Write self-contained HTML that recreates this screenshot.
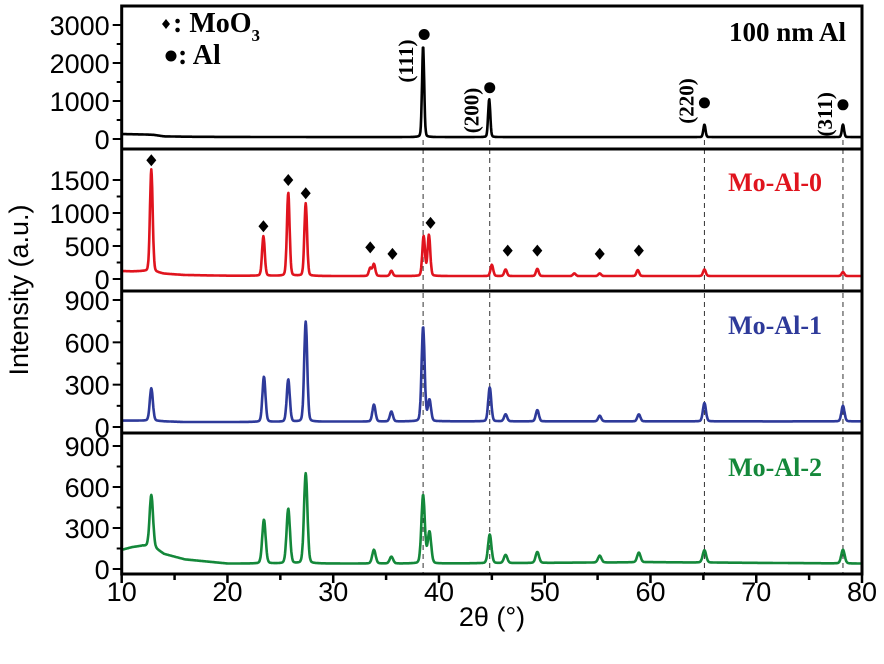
<!DOCTYPE html>
<html><head><meta charset="utf-8"><style>
html,body{margin:0;padding:0;background:#fff;width:884px;height:664px;overflow:hidden}
svg{display:block}
.ax{font-family:"Liberation Sans",Arial,sans-serif;font-size:27px;fill:#000}
.ser{font-family:"Liberation Serif",serif;font-weight:bold}
</style></head><body>
<svg id="chart" width="884" height="664" viewBox="0 0 884 664" xmlns="http://www.w3.org/2000/svg"></svg>
<script>
const xTicks=[10,20,30,40,50,60,70,80];
const panelNames=['100 nm Al','Mo-Al-0','Mo-Al-1','Mo-Al-2'];
const panelColors=['#000000','#e0141e','#2e3a9a','#14883a'];
const panelMax=[3000,1500,900,900];
const panelTicks=[[0,1000,2000,3000],[0,500,1000,1500],[0,300,600,900],[0,300,600,900]];
const baseX=[10,11,12,13,14,16,20,30,40,50,60,70,80];
const baseAl=[130,125,120,110,70,60,55,50,50,50,50,50,50];
const base0=[120,115,118,110,80,60,50,45,45,45,45,45,45];
const base1=[45,45,45,45,40,35,35,38,40,40,40,40,40];
const base2=[140,160,170,160,110,70,40,40,40,45,50,45,40];
const peaksAlX=[38.5,44.75,65.1,78.2];
const peaksAlH=[2400,1000,330,330];
const peaks0X=[12.8,23.4,25.75,27.4,33.5,33.85,35.5,38.55,39.05,45.0,46.3,49.3,52.8,55.2,58.8,65.1,78.2];
const peaks0H=[1550,600,1260,1100,120,180,80,600,620,170,100,110,40,40,90,100,60];
const peaks1X=[12.8,23.45,25.75,27.4,33.85,35.5,38.5,39.1,44.8,46.3,49.3,55.2,58.9,65.1,78.2];
const peaks1H=[230,320,300,710,120,70,670,150,240,50,80,40,50,130,110];
const peaks2X=[12.8,23.45,25.75,27.4,33.85,35.5,38.5,39.1,44.8,46.3,49.3,55.2,58.9,65.1,78.2];
const peaks2H=[380,320,400,660,100,50,500,230,210,60,80,50,70,90,100];
const peakW=[0.12,0.15,0.17,0.19];
const dashX=[38.5,44.8,65.1,78.2];
const alMarkX=[38.6,44.8,65.1,78.2];
const alMarkY=[2750,1350,950,900];
const alMarkLabel=['(111)','(200)','(220)','(311)'];
const alLabelY=[2050,750,1000,650];
const moMarkX=[12.8,23.4,25.75,27.4,33.5,35.6,39.2,46.5,49.3,55.2,58.9];
const moMarkY=[1800,800,1500,1300,480,380,850,430,430,380,430];

const NS='http://www.w3.org/2000/svg';
const svg=document.getElementById('chart');
const X0=121.7,X1=862,Y0=6;
const panels=[{top:6,bot:149,zero:139,maxY:25},{top:149,bot:291,zero:279,maxY:180},{top:291,bot:433,zero:427,maxY:300},{top:433,bot:574,zero:569,maxY:446}];
function sx(v){return X0+(v-10)*(X1-X0)/70;}
function sy(p,v){const P=panels[p];return P.zero+(P.maxY-P.zero)*v/panelMax[p];}
function mk(tag,attrs,parent){const e=document.createElementNS(NS,tag);for(const k in attrs)e.setAttribute(k,attrs[k]);(parent||svg).appendChild(e);return e;}
function interp(xs,ys,x){for(let i=0;i<xs.length-1;i++){if(x<=xs[i+1]){const t=(x-xs[i])/(xs[i+1]-xs[i]);return ys[i]+t*(ys[i+1]-ys[i]);}}return ys[ys.length-1];}
const bases=[baseAl,base0,base1,base2];
const px=[peaksAlX,peaks0X,peaks1X,peaks2X];
const ph=[peaksAlH,peaks0H,peaks1H,peaks2H];

dashX.forEach(d=>{
  const l=mk('line',{x1:sx(d),x2:sx(d),y1:140,y2:574,stroke:'#333','stroke-width':1,'stroke-dasharray':'5,4'});
  
  
});

for(let p=0;p<4;p++){
  const g=mk('g',{});
  
  
  let d='';
  for(let x=10;x<=80.001;x+=0.04){
    let y=interp(baseX,bases[p],x);
    const w=peakW[p];
    for(let i=0;i<px[p].length;i++){const u=(x-px[p][i])/w;y+=ph[p][i]*(0.85*Math.exp(-0.693*u*u)+0.15/(1+u*u));}
    d+=(d?'L':'M')+sx(x).toFixed(1)+','+sy(p,y).toFixed(1);
  }
  const path=mk('path',{d:d,fill:'none',stroke:panelColors[p],'stroke-width':2.6,'stroke-linejoin':'round'},g);
  
  
  const P=panels[p];
  const tk=panelTicks[p];
  const step=tk[1]-tk[0];
  for(let v=0;v<=panelMax[p]+1;v+=step/2){
    const y=sy(p,v);
    if(y<P.top+1)continue;
    const major=tk.includes(v);
    mk('line',{x1:X0-(major?9:5),x2:X0,y1:y,y2:y,stroke:'#000','stroke-width':2},g);
  }
  tk.forEach(v=>{
    const t=mk('text',{x:X0-12,y:sy(p,v)+10,'text-anchor':'end',class:'ax'},g);
    
    
    t.textContent=v;
  });
  const lab=mk('text',{x:p==0?846:822,y:p==0?41:[0,191,334,476][p],'text-anchor':'end',class:'ser','font-size':p==0?27:26,fill:panelColors[p]},g);
  
  
  lab.textContent=panelNames[p];
  if(p<3){mk('line',{x1:X0,x2:X1,y1:P.bot,y2:P.bot,stroke:'#000','stroke-width':3},g);}
}
const fr=mk('rect',{x:X0,y:Y0,width:X1-X0,height:574-Y0,fill:'none',stroke:'#000','stroke-width':3});


for(let v=10;v<=80;v+=5){
  const major=v%10==0;
  mk('line',{x1:sx(v),x2:sx(v),y1:574,y2:574+(major?9:6),stroke:'#000','stroke-width':2.5});
}
xTicks.forEach(v=>{
  const t=mk('text',{x:sx(v),y:601,'text-anchor':'middle',class:'ax'});
  
  
  t.textContent=v;
});
const xt=mk('text',{x:492,y:626,'text-anchor':'middle',class:'ax','font-size':28});


xt.textContent='2θ (°)';
const yt=mk('text',{x:0,y:0,'text-anchor':'middle',class:'ax','font-size':29,transform:'translate(28,290) rotate(-90)'});


yt.textContent='Intensity (a.u.)';
alMarkX.forEach((v,i)=>{
  const c=mk('circle',{cx:sx(v),cy:sy(0,alMarkY[i]),r:5.5,fill:'#000'});
  
  
  const cx=sx(v)-11, cy=sy(0,alLabelY[i]);
  const t=mk('text',{x:0,y:0,'text-anchor':'middle',class:'ser','font-size':21,transform:'translate('+cx+','+cy+') rotate(-90)'});
  
  
  t.textContent=alMarkLabel[i];
});
moMarkX.forEach((v,i)=>{
  const x=sx(v),y=sy(1,moMarkY[i]);
  const dm=mk('path',{d:`M${x},${y-6}L${x+5},${y}L${x},${y+6}L${x-5},${y}Z`,fill:'#000'});
  
  
});
const lg=mk('g',{});


mk('path',{d:'M166,19L170,24L166,29L162,24Z',fill:'#000'},lg);
const l1=mk('text',{x:173,y:32,class:'ser','font-size':28},lg);
l1.innerHTML=': MoO<tspan font-size="17" dy="9">3</tspan>';
mk('circle',{cx:171,cy:56,r:5.5,fill:'#000'},lg);
const l2=mk('text',{x:178,y:64,class:'ser','font-size':28},lg);
l2.textContent=': Al';
</script>
</body></html>
